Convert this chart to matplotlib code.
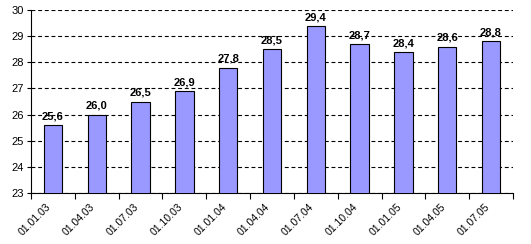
import matplotlib
matplotlib.use('Agg')
import matplotlib.pyplot as plt
import matplotlib.transforms as mtransforms
import numpy as np

dates = ['01.01.03', '01.04.03', '01.07.03', '01.10.03', '01.01.04', '01.04.04',
         '01.07.04', '01.10.04', '01.01.05', '01.04.05', '01.07.05']
values = [25.6, 26.0, 26.5, 26.9, 27.8, 28.5, 29.4, 28.7, 28.4, 28.6, 28.8]

plt.rcParams['font.family'] = ['Liberation Sans', 'DejaVu Sans']

fig = plt.figure(figsize=(5.31, 2.44), dpi=100)
ax = fig.add_axes([0.0584, 0.209, 0.966 - 0.0584, 0.959 - 0.209])

x = np.arange(len(values))
ax.bar(x, values, width=0.42, color='#9999ff', edgecolor='black', linewidth=0.8,
       zorder=3)
ax.set_ylim(23, 30)
ax.set_xlim(-0.5, len(values) - 0.5)

for xi, v in zip(x, values):
    ax.text(xi, v + 0.14, '{:.1f}'.format(v).replace('.', ','), ha='center',
            va='bottom', fontsize=8, fontweight='bold', zorder=4)

ax.set_yticks(range(23, 31))
ax.yaxis.grid(True, linestyle=(0, (3.5, 2.5)), color='black', linewidth=0.8, zorder=0)
ax.tick_params(axis='y', labelsize=8, length=3, width=0.8, pad=2)

# ticks at category boundaries, labels at category centres
ax.set_xticks(np.arange(len(values) + 1) - 0.5)
ax.set_xticklabels([])
ax.set_xticks(x, minor=True)
ax.set_xticklabels(dates, minor=True, rotation=45, ha='right', va='top',
                   rotation_mode='anchor', fontsize=7.5)
ax.tick_params(axis='x', which='major', length=4, width=0.8)
ax.tick_params(axis='x', which='minor', length=0, pad=6)
shift = mtransforms.ScaledTranslation(-7 / 100, 0, fig.dpi_scale_trans)
for lab in ax.xaxis.get_minorticklabels():
    lab.set_transform(lab.get_transform() + shift)

for s in ['top', 'right']:
    ax.spines[s].set_visible(False)
for s in ['left', 'bottom']:
    ax.spines[s].set_linewidth(0.8)

fig.savefig('out.png', dpi=100)
